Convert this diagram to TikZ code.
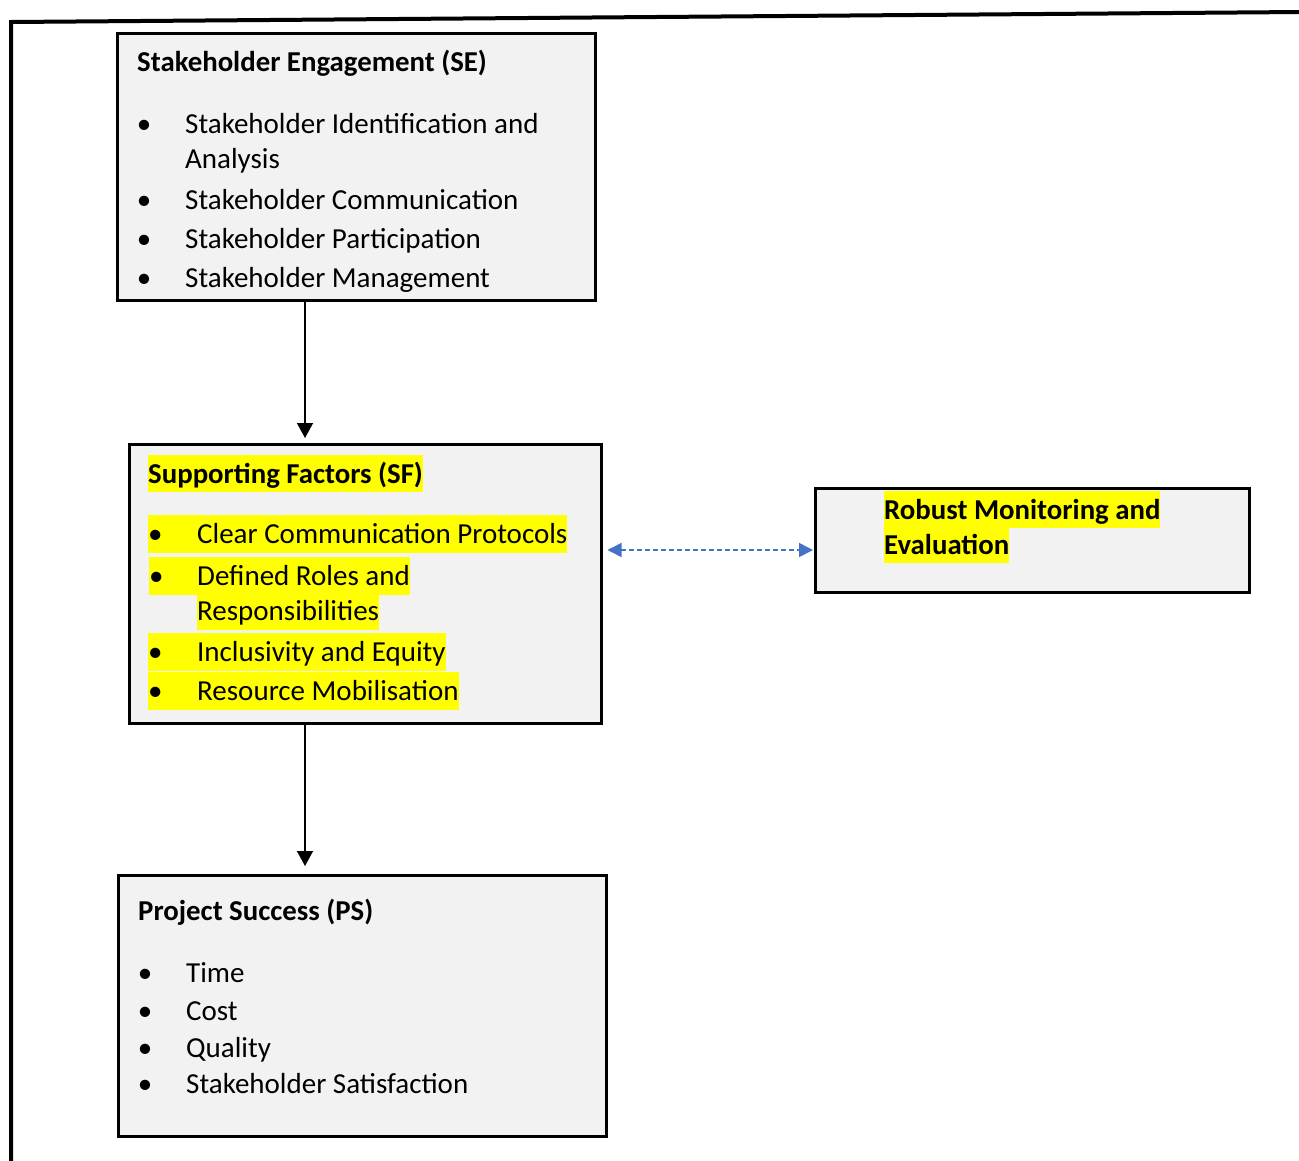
\documentclass[tikz,border=0pt]{standalone}
\usepackage{fontspec}
\setmainfont{Carlito}
\usetikzlibrary{arrows.meta}
\definecolor{boxgray}{HTML}{F2F2F2}
\definecolor{hlyellow}{HTML}{FFFF00}
\definecolor{linkblue}{HTML}{4472C4}
\begin{document}
\begin{tikzpicture}[x=1pt,y=-1pt,
  box/.style={draw=black, line width=2.5pt, fill=boxgray, anchor=north west, inner sep=0pt},
  txt/.style={anchor=base west, inner sep=0pt, font=\fontsize{29}{35}\selectfont},
  ttl/.style={anchor=base west, inner sep=0pt, font=\fontsize{28.8}{35}\selectfont\bfseries},
  bul/.style={anchor=base, inner sep=0pt, font=\fontsize{29}{35}\selectfont},
  hl/.style={fill=hlyellow, text height=28pt, text depth=10pt},
  hlb/.style={fill=hlyellow, text height=28pt, text depth=9pt},
  flow/.style={draw=black, line width=1.5pt, -{Triangle[width=16pt,length=15pt]}},
  link/.style={draw=linkblue, line width=1.5pt, dash pattern=on 5pt off 3pt,
    {Triangle[width=14pt,length=14pt]}-{Triangle[width=14pt,length=14pt]}}
]
\useasboundingbox (0,0) rectangle (1299,1160);

% outer frame
\draw[line width=4pt] (11,1162) -- (11,22) -- (1301,12);

% boxes
\node[box, minimum width=478pt, minimum height=267pt] (se) at (116,32) {};
\node[box, minimum width=472pt, minimum height=279pt] (sf) at (128,443) {};
\node[box, minimum width=434pt, minimum height=104pt] (rme) at (814,487) {};
\node[box, minimum width=488pt, minimum height=261pt] (ps) at (117,874) {};

% SE text
\node[ttl] (se-t) at (137,71) {Stakeholder Engagement (SE)};
\node[bul] (se-b1) at (144,133) {\textbullet};
\node[txt] (se-1) at (185,133) {Stakeholder Identification and};
\node[txt] (se-1b) at (185,168) {Analysis};
\node[bul] (se-b2) at (144,209) {\textbullet};
\node[txt] (se-2) at (185,209) {Stakeholder Communication};
\node[bul] (se-b3) at (144,248) {\textbullet};
\node[txt] (se-3) at (185,248) {Stakeholder Participation};
\node[bul] (se-b4) at (144,287) {\textbullet};
\node[txt] (se-4) at (185,287) {Stakeholder Management};

% SF text
\node[ttl, hlb] (sf-t) at (148,483) {Supporting Factors (SF)};
\node[txt, hl] (sf-1) at (148,543) {\makebox[49pt][l]{\textbullet}Clear Communication Protocols};
\node[txt, hl] (sf-2) at (149,585) {\makebox[48pt][l]{\textbullet}Defined Roles and};
\node[txt, hl] (sf-2b) at (197,620) {Responsibilities};
\node[txt, hl] (sf-3) at (148,661) {\makebox[49pt][l]{\textbullet}Inclusivity and Equity};
\node[txt, hl] (sf-4) at (148,700) {\makebox[49pt][l]{\textbullet}Resource Mobilisation};

% RME text
\node[ttl, hlb] (rme-1) at (884,519) {Robust Monitoring and};
\node[ttl, hlb] (rme-2) at (884,554) {Evaluation};

% PS text
\node[ttl] (ps-t) at (138,920) {Project Success (PS)};
\node[bul] (ps-b1) at (145,982) {\textbullet};
\node[txt] (ps-1) at (186,982) {Time};
\node[bul] (ps-b2) at (145,1020) {\textbullet};
\node[txt] (ps-2) at (186,1020) {Cost};
\node[bul] (ps-b3) at (145,1057) {\textbullet};
\node[txt] (ps-3) at (186,1057) {Quality};
\node[bul] (ps-b4) at (145,1093) {\textbullet};
\node[txt] (ps-4) at (186,1093) {Stakeholder Satisfaction};

% connectors
\coordinate (ax) at (305,0);
\coordinate (ly) at (0,550);
\draw[flow, shorten >=5pt] (se.south -| ax) -- (sf.north -| ax);
\draw[flow, shorten >=8pt] (sf.south -| ax) -- (ps.north -| ax);
\draw[link, shorten <=5pt, shorten >=1pt] (sf.east |- ly) -- (rme.west |- ly);
\end{tikzpicture}
\end{document}
